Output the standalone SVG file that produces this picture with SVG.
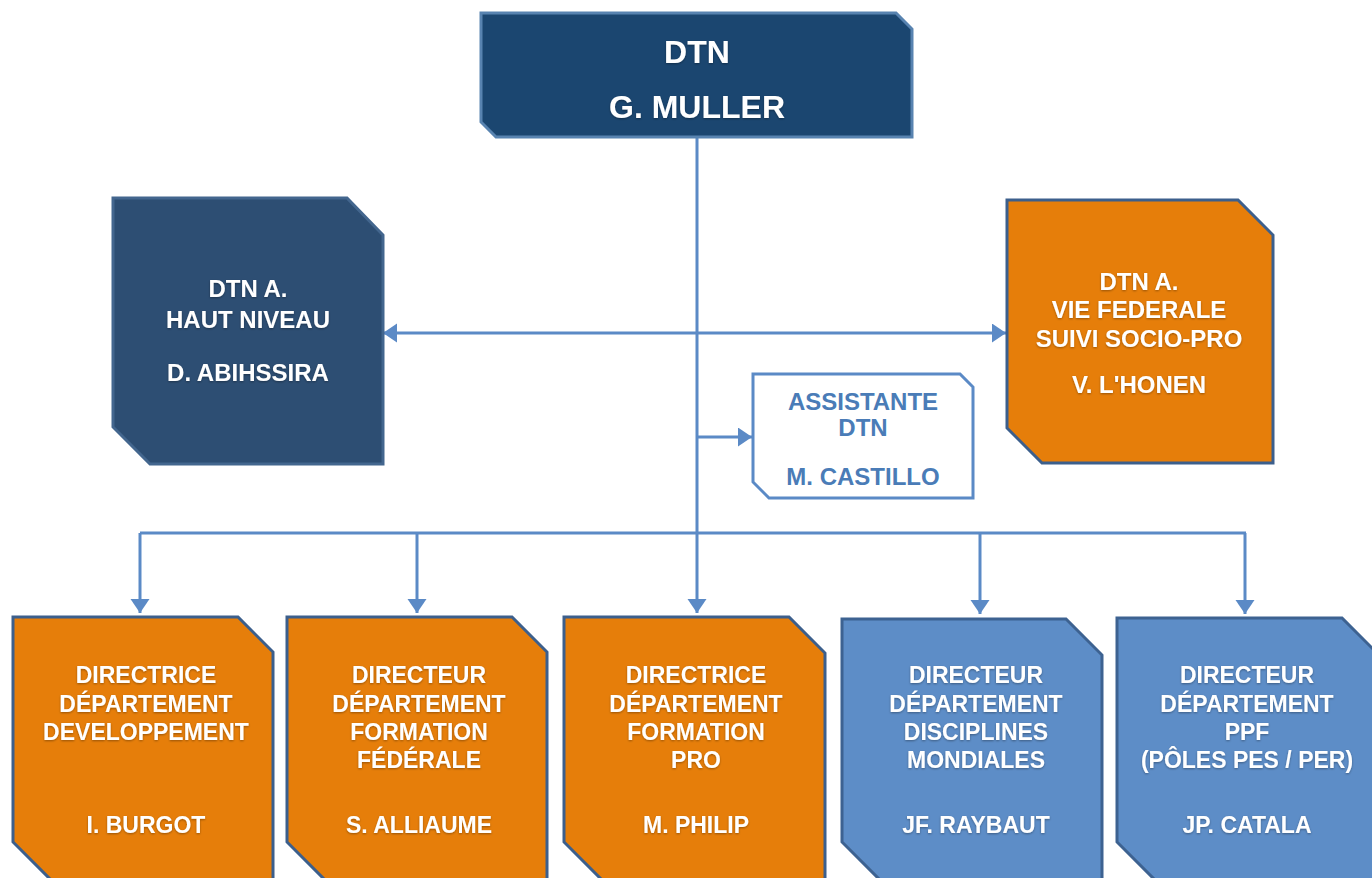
<svg xmlns="http://www.w3.org/2000/svg" width="1372" height="878" viewBox="0 0 1372 878">
<style>
.t{font-family:"Liberation Sans",Arial,Helvetica,sans-serif;font-weight:bold;text-anchor:middle;fill:#ffffff}
.sh{filter:url(#glow)}
.top{font-size:32px}
.mid{font-size:24px}
.bot{font-size:23px}
.asst{fill:#4a7cb7}
.conn{stroke:#5b8ac6;stroke-width:3;fill:none}
.navy{fill:#1b4670;stroke:#5883b0;stroke-width:3}
.slate{fill:#2d4e73;stroke:#43668e;stroke-width:3}
.orange{fill:#e67e0a;stroke:#3c5f8c;stroke-width:3}
.blue{fill:#5d8dc7;stroke:#3d6291;stroke-width:3}
.white{fill:#ffffff;stroke:#5b8ac6;stroke-width:3}
</style>
<defs>
<filter id="glow" x="-10%" y="-30%" width="120%" height="160%">
<feDropShadow dx="0" dy="1" stdDeviation="1" flood-color="#000000" flood-opacity="0.35"/>
</filter>
<marker id="arr" markerUnits="userSpaceOnUse" markerWidth="16" markerHeight="20" refX="14" refY="9.5" orient="auto-start-reverse" viewBox="0 0 16 20">
<path d="M0,0 L14,9.5 L0,19 z" fill="#5b8ac6"/>
</marker>
</defs>
<rect width="1372" height="878" fill="#ffffff"/>
<g id="connectors">
<line class="conn" x1="697" y1="137" x2="697" y2="613" marker-end="url(#arr)"/>
<line class="conn" x1="140" y1="533" x2="1246" y2="533"/>
<line class="conn" x1="140" y1="533" x2="140" y2="613" marker-end="url(#arr)"/>
<line class="conn" x1="417" y1="533" x2="417" y2="613" marker-end="url(#arr)"/>
<line class="conn" x1="980" y1="533" x2="980" y2="614" marker-end="url(#arr)"/>
<line class="conn" x1="1245" y1="533" x2="1245" y2="614" marker-end="url(#arr)"/>
<line class="conn" x1="383" y1="333" x2="1006" y2="333" marker-start="url(#arr)" marker-end="url(#arr)"/>
<line class="conn" x1="697" y1="437" x2="752" y2="437" marker-end="url(#arr)"/>
</g>
<g id="dtn">
<polygon class="navy" points="481,13 896,13 912,29 912,137 496,137 481,122"/>
<text class="t top sh" x="697" y="63">DTN</text>
<text class="t top sh" x="697" y="118">G. MULLER</text>
</g>
<g id="haut-niveau">
<polygon class="slate" points="113,198 347,198 383,235 383,464 150,464 113,427"/>
<text class="t mid sh" x="248" y="297">DTN A.</text>
<text class="t mid sh" x="248" y="328">HAUT NIVEAU</text>
<text class="t mid sh" x="248" y="381">D. ABIHSSIRA</text>
</g>
<g id="vie-federale">
<polygon class="orange" points="1007,200 1238,200 1273,235 1273,463 1042,463 1007,428"/>
<text class="t mid sh" x="1139" y="290">DTN A.</text>
<text class="t mid sh" x="1139" y="318">VIE FEDERALE</text>
<text class="t mid sh" x="1139" y="347">SUIVI SOCIO-PRO</text>
<text class="t mid sh" x="1139" y="393">V. L'HONEN</text>
</g>
<g id="assistante">
<polygon class="white" points="753,374 960,374 973,387 973,498 769,498 753,482"/>
<text class="t mid asst" x="863" y="410">ASSISTANTE</text>
<text class="t mid asst" x="863" y="436">DTN</text>
<text class="t mid asst" x="863" y="485">M. CASTILLO</text>
</g>
<g id="developpement">
<polygon class="orange" points="13,617 238,617 273,652 273,884 55,884 13,842"/>
<text class="t bot sh" x="146" y="683">DIRECTRICE</text>
<text class="t bot sh" x="146" y="712">DÉPARTEMENT</text>
<text class="t bot sh" x="146" y="740">DEVELOPPEMENT</text>
<text class="t bot sh" x="146" y="833">I. BURGOT</text>
</g>
<g id="formation-federale">
<polygon class="orange" points="287,617 512,617 547,652 547,884 329,884 287,842"/>
<text class="t bot sh" x="419" y="683">DIRECTEUR</text>
<text class="t bot sh" x="419" y="712">DÉPARTEMENT</text>
<text class="t bot sh" x="419" y="740">FORMATION</text>
<text class="t bot sh" x="419" y="768">FÉDÉRALE</text>
<text class="t bot sh" x="419" y="833">S. ALLIAUME</text>
</g>
<g id="formation-pro">
<polygon class="orange" points="564,617 789,617 825,653 825,884 606,884 564,842"/>
<text class="t bot sh" x="696" y="683">DIRECTRICE</text>
<text class="t bot sh" x="696" y="712">DÉPARTEMENT</text>
<text class="t bot sh" x="696" y="740">FORMATION</text>
<text class="t bot sh" x="696" y="768">PRO</text>
<text class="t bot sh" x="696" y="833">M. PHILIP</text>
</g>
<g id="disciplines-mondiales">
<polygon class="blue" points="842,619 1066,619 1102,655 1102,884 884,884 842,842"/>
<text class="t bot sh" x="976" y="683">DIRECTEUR</text>
<text class="t bot sh" x="976" y="712">DÉPARTEMENT</text>
<text class="t bot sh" x="976" y="740">DISCIPLINES</text>
<text class="t bot sh" x="976" y="768">MONDIALES</text>
<text class="t bot sh" x="976" y="833">JF. RAYBAUT</text>
</g>
<g id="ppf">
<polygon class="blue" points="1117,618 1342,618 1378,654 1378,884 1159,884 1117,842"/>
<text class="t bot sh" x="1247" y="683">DIRECTEUR</text>
<text class="t bot sh" x="1247" y="712">DÉPARTEMENT</text>
<text class="t bot sh" x="1247" y="740">PPF</text>
<text class="t bot sh" x="1247" y="768">(PÔLES PES / PER)</text>
<text class="t bot sh" x="1247" y="833">JP. CATALA</text>
</g>
</svg>
